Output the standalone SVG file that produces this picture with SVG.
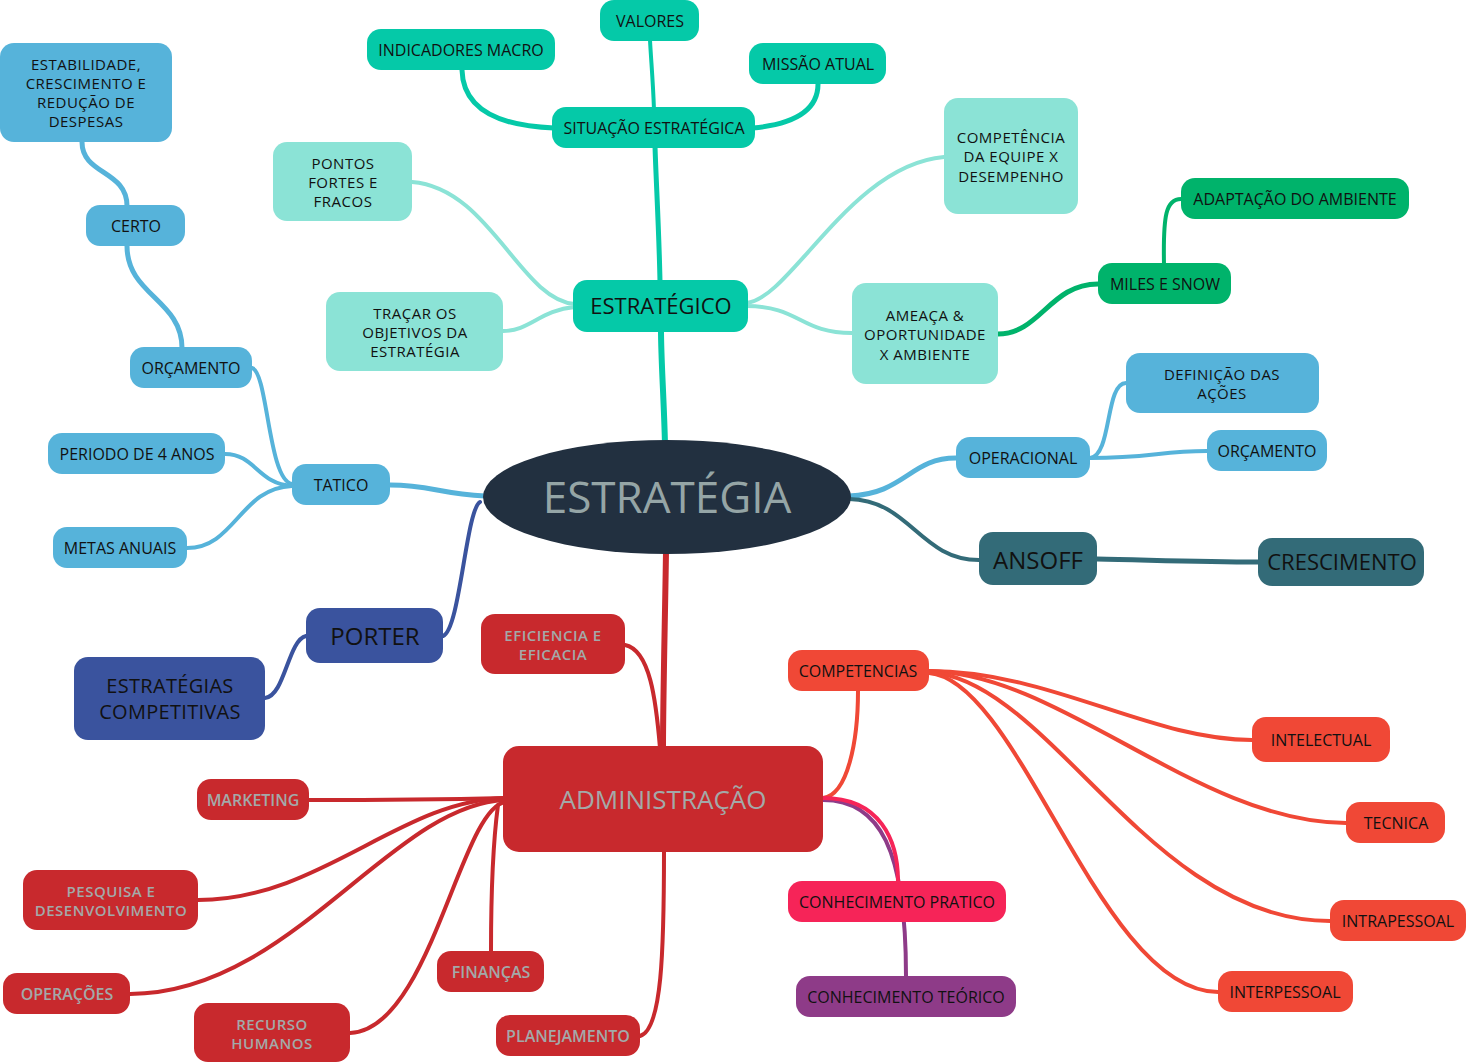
<svg xmlns="http://www.w3.org/2000/svg" width="1466" height="1063" viewBox="0 0 1466 1063">
<style>
text{font-family:"Open Sans","Noto Sans","DejaVu Sans",sans-serif;text-anchor:middle;}
.t{font-size:16px;fill:#111;}
.tr{font-size:16px;fill:#A3A9A9;font-weight:600;}
.m{font-size:15px;letter-spacing:0.5px;}
.c path{fill:none;stroke-linecap:round;}
.teal{fill:#05C9A8;}
.lt{fill:#8BE3D6;}
.gr{fill:#00B36B;}
.bl{fill:#56B3DA;}
.dt{fill:#336B78;}
.db{fill:#3A539E;}
.rd{fill:#C8292D;}
.or{fill:#F04836;}
.pk{fill:#F62458;}
.pu{fill:#8E3B88;}
</style>
<rect width="1466" height="1063" fill="#fff"/>
<g id="connectors" class="c">
  <path d="M665,445 C664,400 661,360 661,330" stroke="#05C9A8" stroke-width="6"/>
  <path d="M660,282 C659,230 656,180 655,146" stroke="#05C9A8" stroke-width="5"/>
  <path d="M654,110 C653,80 651,60 650,40" stroke="#05C9A8" stroke-width="4"/>
  <path d="M554,128 C500,126 463,110 462,70" stroke="#05C9A8" stroke-width="5"/>
  <path d="M753,128 C795,124 818,110 818,84" stroke="#05C9A8" stroke-width="5"/>
  <path d="M575,304 C520,300 490,188 412,182" stroke="#8BE3D6" stroke-width="4"/>
  <path d="M575,307 C540,310 530,331 503,331" stroke="#8BE3D6" stroke-width="4"/>
  <path d="M746,303 C790,300 850,165 944,157" stroke="#8BE3D6" stroke-width="4"/>
  <path d="M746,306 C800,306 800,333 852,333" stroke="#8BE3D6" stroke-width="4"/>
  <path d="M998,334 C1040,334 1050,284 1098,284" stroke="#00B36B" stroke-width="5"/>
  <path d="M1164,265 C1163,215 1166,199 1181,199" stroke="#00B36B" stroke-width="4"/>
  <path d="M485,496 C440,494 430,485 390,485" stroke="#56B3DA" stroke-width="5"/>
  <path d="M292,484 C268,480 268,372 252,368" stroke="#56B3DA" stroke-width="4"/>
  <path d="M182,348 C182,300 127,295 127,246" stroke="#56B3DA" stroke-width="5"/>
  <path d="M127,206 C127,170 82,175 82,142" stroke="#56B3DA" stroke-width="5"/>
  <path d="M292,486 C258,484 255,454 225,454" stroke="#56B3DA" stroke-width="4"/>
  <path d="M292,486 C240,488 235,548 187,548" stroke="#56B3DA" stroke-width="4"/>
  <path d="M849,496 C905,494 910,458 956,458" stroke="#56B3DA" stroke-width="5"/>
  <path d="M1090,458 C1112,456 1105,383 1126,383" stroke="#56B3DA" stroke-width="4"/>
  <path d="M1090,458 C1150,458 1160,451 1207,451" stroke="#56B3DA" stroke-width="4"/>
  <path d="M849,499 C910,500 920,560 979,560" stroke="#336B78" stroke-width="4"/>
  <path d="M1097,559 C1150,560 1200,562 1258,562" stroke="#336B78" stroke-width="5"/>
  <path d="M480,502 C466,510 460,630 443,636" stroke="#3A539E" stroke-width="4"/>
  <path d="M306,636 C288,640 285,696 265,698" stroke="#3A539E" stroke-width="4"/>
  <path d="M666,552 C665,620 663,700 663,748" stroke="#C8292D" stroke-width="6"/>
  <path d="M660,748 C656,700 650,650 625,645" stroke="#C8292D" stroke-width="4"/>
  <path d="M505,798 C420,800 360,800 309,800" stroke="#C8292D" stroke-width="4"/>
  <path d="M505,798 C400,800 320,900 198,900" stroke="#C8292D" stroke-width="4"/>
  <path d="M505,800 C390,805 290,994 130,994" stroke="#C8292D" stroke-width="4"/>
  <path d="M505,802 C460,810 430,1030 350,1033" stroke="#C8292D" stroke-width="4"/>
  <path d="M498,805 C492,850 491,900 491,951" stroke="#C8292D" stroke-width="4"/>
  <path d="M664,850 C664,950 662,1030 640,1036" stroke="#C8292D" stroke-width="4"/>
  <path d="M823,798 C848,795 858,740 858,691" stroke="#F04836" stroke-width="4"/>
  <path d="M823,800 C880,800 906,850 906,976" stroke="#8E3B88" stroke-width="4"/>
  <path d="M823,798 C880,798 898,840 898,881" stroke="#F62458" stroke-width="4"/>
  <path d="M929,671 C1050,671 1150,740 1252,740" stroke="#F04836" stroke-width="4"/>
  <path d="M929,671 C1060,673 1200,823 1346,823" stroke="#F04836" stroke-width="4"/>
  <path d="M929,672 C1050,680 1150,921 1330,921" stroke="#F04836" stroke-width="4"/>
  <path d="M929,673 C1020,680 1100,992 1218,992" stroke="#F04836" stroke-width="4"/>
</g>

<g id="n-valores"><rect class="teal" x="600" y="0" width="99" height="41" rx="14"/><text class="t" x="650" y="27">VALORES</text></g>
<g id="n-indicadores"><rect class="teal" x="367" y="29" width="188" height="41" rx="14"/><text class="t" x="461" y="56">INDICADORES MACRO</text></g>
<g id="n-missao"><rect class="teal" x="749" y="43" width="137" height="41" rx="14"/><text class="t" x="818" y="70">MISSÃO ATUAL</text></g>
<g id="n-situacao"><rect class="teal" x="552" y="107" width="203" height="41" rx="14"/><text class="t" x="654" y="134">SITUAÇÃO ESTRATÉGICA</text></g>
<g id="n-estabilidade"><rect class="bl" x="0" y="43" width="172" height="99" rx="14"/><text class="t m" x="86" y="69.5">ESTABILIDADE,</text><text class="t m" x="86" y="88.5">CRESCIMENTO E</text><text class="t m" x="86" y="107.5">REDUÇÃO DE</text><text class="t m" x="86" y="126.5">DESPESAS</text></g>
<g id="n-certo"><rect class="bl" x="86" y="205" width="99" height="41" rx="14"/><text class="t" x="136" y="232">CERTO</text></g>
<g id="n-pontos"><rect class="lt" x="273" y="142" width="139" height="79" rx="14"/><text class="t m" x="343" y="168.5">PONTOS</text><text class="t m" x="343" y="187.5">FORTES E</text><text class="t m" x="343" y="206.5">FRACOS</text></g>
<g id="n-competencia"><rect class="lt" x="944" y="98" width="134" height="116" rx="14"/><text class="t m" x="1011" y="142.5">COMPETÊNCIA</text><text class="t m" x="1011" y="161.5">DA EQUIPE X</text><text class="t m" x="1011" y="181.5">DESEMPENHO</text></g>
<g id="n-adaptacao"><rect class="gr" x="1181" y="178" width="228" height="41" rx="14"/><text class="t" x="1295" y="205">ADAPTAÇÃO DO AMBIENTE</text></g>
<g id="n-miles"><rect class="gr" x="1098" y="263" width="133" height="41" rx="14"/><text class="t" x="1165" y="290">MILES E SNOW</text></g>
<g id="n-estrategico"><rect class="teal" x="573" y="280" width="175" height="52" rx="14"/><text x="661" y="314" style="font-size:22px;fill:#111">ESTRATÉGICO</text></g>
<g id="n-tracar"><rect class="lt" x="326" y="292" width="177" height="79" rx="14"/><text class="t m" x="415" y="318.5">TRAÇAR OS</text><text class="t m" x="415" y="337.5">OBJETIVOS DA</text><text class="t m" x="415" y="356.5">ESTRATÉGIA</text></g>
<g id="n-ameaca"><rect class="lt" x="852" y="283" width="146" height="101" rx="14"/><text class="t m" x="925" y="320.5">AMEAÇA &amp;</text><text class="t m" x="925" y="339.5">OPORTUNIDADE</text><text class="t m" x="925" y="359.5">X AMBIENTE</text></g>
<g id="n-definicao"><rect class="bl" x="1126" y="353" width="193" height="60" rx="14"/><text class="t m" x="1222" y="379.5">DEFINIÇÃO DAS</text><text class="t m" x="1222" y="398.5">AÇÕES</text></g>
<g id="n-orcamento-l"><rect class="bl" x="130" y="347" width="122" height="41" rx="14"/><text class="t" x="191" y="374">ORÇAMENTO</text></g>
<g id="n-orcamento-r"><rect class="bl" x="1207" y="430" width="120" height="41" rx="14"/><text class="t" x="1267" y="457">ORÇAMENTO</text></g>
<g id="n-operacional"><rect class="bl" x="956" y="437" width="134" height="41" rx="14"/><text class="t" x="1023" y="464">OPERACIONAL</text></g>
<g id="n-periodo"><rect class="bl" x="48" y="433" width="177" height="41" rx="14"/><text class="t" x="137" y="460">PERIODO DE 4 ANOS</text></g>
<g id="n-tatico"><rect class="bl" x="292" y="464" width="98" height="41" rx="14"/><text class="t" x="341" y="491">TATICO</text></g>
<g id="n-estrategia"><ellipse cx="667" cy="497" rx="184" ry="57" fill="#223040"/><text x="667" y="513" style="font-size:44px;fill:#95A5A6">ESTRATÉGIA</text></g>
<g id="n-metas"><rect class="bl" x="53" y="527" width="134" height="41" rx="14"/><text class="t" x="120" y="554">METAS ANUAIS</text></g>
<g id="n-ansoff"><rect class="dt" x="979" y="532" width="118" height="53" rx="14"/><text x="1038" y="568.5" style="font-size:24px;fill:#111">ANSOFF</text></g>
<g id="n-crescimento"><rect class="dt" x="1258" y="538" width="166" height="48" rx="14"/><text x="1342" y="570" style="font-size:22px;fill:#111">CRESCIMENTO</text></g>
<g id="n-porter"><rect class="db" x="306" y="608" width="137" height="55" rx="14"/><text x="375" y="645" style="font-size:24px;fill:#111">PORTER</text></g>
<g id="n-competitivas"><rect class="db" x="74" y="657" width="191" height="83" rx="14"/><text x="170" y="693" style="font-size:20px;fill:#111;letter-spacing:0.3px">ESTRATÉGIAS</text><text x="170" y="719" style="font-size:20px;fill:#111;letter-spacing:0.3px">COMPETITIVAS</text></g>
<g id="n-eficiencia"><rect class="rd" x="481" y="614" width="144" height="60" rx="14"/><text class="tr m" x="553" y="640.5">EFICIENCIA E</text><text class="tr m" x="553" y="659.5">EFICACIA</text></g>
<g id="n-competencias"><rect class="or" x="788" y="650" width="141" height="41" rx="14"/><text class="t" x="858" y="677">COMPETENCIAS</text></g>
<g id="n-administracao"><rect class="rd" x="503" y="746" width="320" height="106" rx="16"/><text x="663" y="809" style="font-size:26px;fill:#A3A9A9">ADMINISTRAÇÃO</text></g>
<g id="n-marketing"><rect class="rd" x="197" y="779" width="112" height="41" rx="14"/><text class="tr" x="253" y="806">MARKETING</text></g>
<g id="n-intelectual"><rect class="or" x="1252" y="717" width="138" height="45" rx="14"/><text class="t" x="1321" y="746">INTELECTUAL</text></g>
<g id="n-tecnica"><rect class="or" x="1346" y="802" width="99" height="41" rx="14"/><text class="t" x="1396" y="829">TECNICA</text></g>
<g id="n-pesquisa"><rect class="rd" x="23" y="870" width="175" height="60" rx="14"/><text class="tr m" x="111" y="896.5">PESQUISA E</text><text class="tr m" x="111" y="915.5">DESENVOLVIMENTO</text></g>
<g id="n-pratico"><rect class="pk" x="788" y="881" width="218" height="41" rx="14"/><text class="t" x="897" y="908">CONHECIMENTO PRATICO</text></g>
<g id="n-intrapessoal"><rect class="or" x="1330" y="900" width="136" height="41" rx="14"/><text class="t" x="1398" y="927">INTRAPESSOAL</text></g>
<g id="n-financas"><rect class="rd" x="437" y="951" width="107" height="41" rx="14"/><text class="tr" x="491" y="978">FINANÇAS</text></g>
<g id="n-interpessoal"><rect class="or" x="1218" y="971" width="135" height="41" rx="14"/><text class="t" x="1285" y="998">INTERPESSOAL</text></g>
<g id="n-operacoes"><rect class="rd" x="3" y="973" width="127" height="41" rx="14"/><text class="tr" x="67" y="1000">OPERAÇÕES</text></g>
<g id="n-teorico"><rect class="pu" x="796" y="976" width="220" height="41" rx="14"/><text class="t" x="906" y="1003">CONHECIMENTO TEÓRICO</text></g>
<g id="n-recurso"><rect class="rd" x="194" y="1003" width="156" height="59" rx="14"/><text class="tr m" x="272" y="1029.5">RECURSO</text><text class="tr m" x="272" y="1048.5">HUMANOS</text></g>
<g id="n-planejamento"><rect class="rd" x="496" y="1015" width="144" height="41" rx="14"/><text class="tr" x="568" y="1042">PLANEJAMENTO</text></g>
</svg>
